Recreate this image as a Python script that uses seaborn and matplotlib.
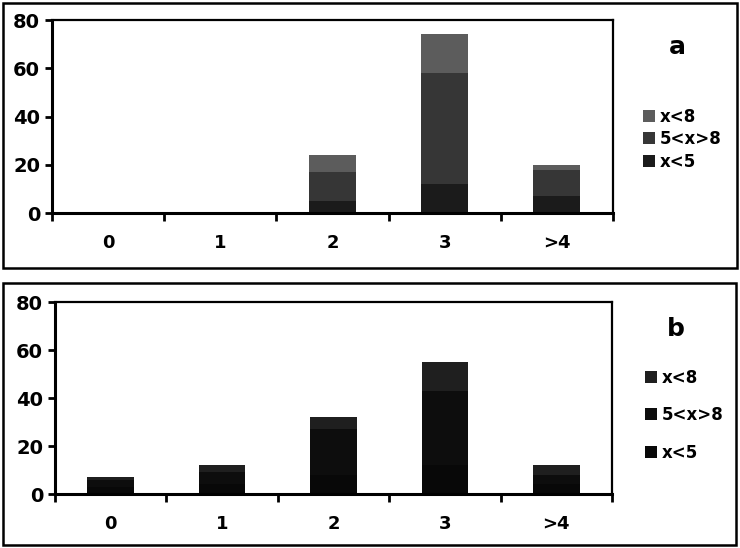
import numpy as np
import pandas as pd
import matplotlib
matplotlib.use("Agg")
import matplotlib.pyplot as plt
from matplotlib.patches import Rectangle
import seaborn as sns

# Data
categories = ["0", "1", "2", "3", ">4"]
series_names = ["x<5", "5<x>8", "x<8"]

# panel a
a_lt5 = [0.5, 0, 5, 12, 7]
a_mid = [0, 0, 12, 46, 11]
a_gt8 = [0, 0, 7, 16, 2]

# panel b
b_lt5 = [3, 4, 8, 12, 4]
b_mid = [3, 5, 19, 31, 4]
b_gt8 = [1, 3, 5, 12, 4]

colors_a = {"x<5": "#1b1b1b", "5<x>8": "#363636", "x<8": "#5c5c5c"}
colors_b = {"x<5": "#080808", "5<x>8": "#0d0d0d", "x<8": "#1f1f1f"}

sns.set_style("white")
plt.rcParams["font.family"] = ["DejaVu Sans"]
plt.rcParams["font.weight"] = "bold"
plt.rcParams["text.color"] = "black"
plt.rcParams["xtick.color"] = "black"
plt.rcParams["ytick.color"] = "black"


def draw_panel(ax, layers, colors, letter, labelspacing, leg_xy):
    df = pd.DataFrame(layers, index=series_names, columns=categories)
    cum = df.cumsum()
    # draw tallest cumulative layer first so lower ones sit on top
    for name in reversed(series_names):
        long = pd.DataFrame({"cat": categories, "val": cum.loc[name].values})
        sns.barplot(data=long, x="cat", y="val", color=colors[name], width=0.42,
                    saturation=1, ax=ax, label=name, order=categories,
                    edgecolor="none", linewidth=0)
    ax.set_xlim(-0.5, 4.5)
    ax.set_ylim(0, 80)
    ax.set_yticks([0, 20, 40, 60, 80])
    ax.set_xlabel("")
    ax.set_ylabel("")
    for s in ax.spines.values():
        s.set_color("black")
        s.set_linewidth(1.6)
    ax.spines["left"].set_linewidth(2.2)
    ax.spines["bottom"].set_linewidth(2.2)
    ax.set_xticks(np.arange(-0.5, 5, 1), minor=True)
    ax.tick_params(axis="x", which="major", length=0, pad=15, labelsize=13)
    ax.tick_params(axis="x", which="minor", length=6, width=2, direction="out", bottom=True)
    ax.tick_params(axis="y", length=5, width=2, direction="out", left=True, labelsize=14)
    for t in ax.get_xticklabels() + ax.get_yticklabels():
        t.set_fontweight("bold")
    ax.legend(loc="center left", bbox_to_anchor=leg_xy, frameon=False,
              borderaxespad=0, borderpad=0, handlelength=0.7, handleheight=0.7,
              handletextpad=0.3, labelspacing=labelspacing,
              prop={"weight": "bold", "size": 12})
    ax.text(1.115, 0.86, letter, transform=ax.transAxes, fontsize=18,
            fontweight="bold", ha="center", va="center")


fig = plt.figure(figsize=(7.4, 5.48), dpi=100)

# outer frames around each panel
fig.patches.append(Rectangle((3 / 740, (548 - 268) / 548), 734 / 740, 265 / 548,
                             transform=fig.transFigure, fill=False, lw=1.8, ec="black"))
fig.patches.append(Rectangle((3 / 740, (548 - 545) / 548), 733 / 740, 262 / 548,
                             transform=fig.transFigure, fill=False, lw=1.8, ec="black"))

ax_a = fig.add_axes([52 / 740, (548 - 213) / 548, 561 / 740, 193 / 548])
draw_panel(ax_a, [a_lt5, a_mid, a_gt8], colors_a, "a", 0.27, (1.0535, 0.383))

ax_b = fig.add_axes([55 / 740, (548 - 494) / 548, 557 / 740, 192 / 548])
draw_panel(ax_b, [b_lt5, b_mid, b_gt8], colors_b, "b", 1.17, (1.059, 0.411))

fig.savefig("out.png", dpi=100)
